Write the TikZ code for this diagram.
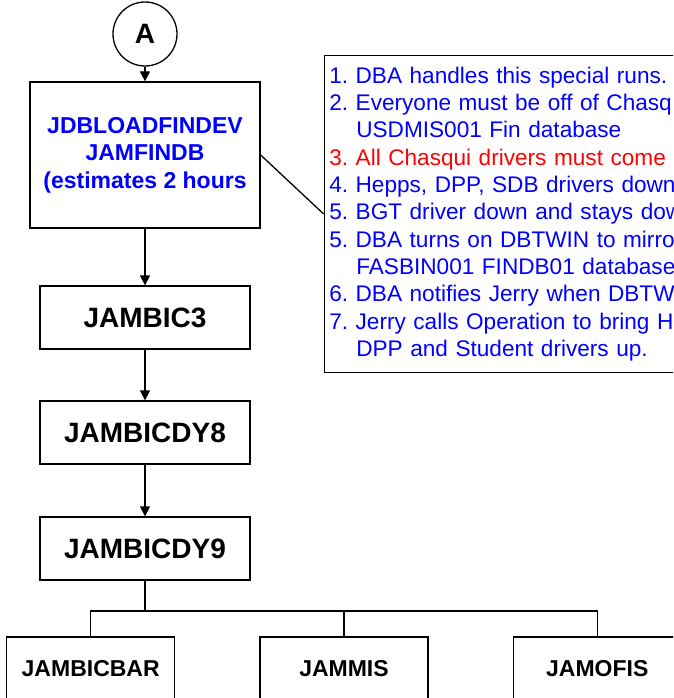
\documentclass[tikz,border=0pt]{standalone}
\usepackage{fontspec}
\setmainfont{Liberation Sans}
\usetikzlibrary{arrows.meta,positioning}
\definecolor{jobblue}{RGB}{0,0,255}
\definecolor{jobred}{RGB}{255,0,0}
\frenchspacing

\begin{document}
\begin{tikzpicture}[x=1pt,y=-1pt,>={Triangle[width=10pt,length=10pt]},line width=1.3pt,
  conn/.style={draw,circle,minimum size=64pt,inner sep=0pt,font=\fontsize{28}{30}\selectfont\bfseries},
  jobbox/.style={draw,rectangle,minimum width=210pt,minimum height=63pt,font=\fontsize{28}{30}\selectfont\bfseries},
  subbox/.style={draw,rectangle,minimum width=168pt,minimum height=64pt,font=\fontsize{23}{26}\selectfont\bfseries},
  notebox/.style={draw,rectangle,text width=420pt,minimum height=317pt,inner xsep=5pt,align=left,text=jobblue,font=\fontsize{22.6}{27.3}\selectfont}]

  \useasboundingbox (0,0) rectangle (673,698);
  \clip (0,0) rectangle (673,698);

  \node[conn] (a) at (145,34) {A};
  \node[jobbox,minimum width=230pt,minimum height=146pt,align=center,text=jobblue,
        font=\fontsize{23}{27.5}\selectfont\bfseries] (load) [below=14.7pt of a]
        {JDBLOADFINDEV\\JAMFINDB\\(estimates 2 hours};
  \node[jobbox] (bic3) [below=56.7pt of load] {JAMBIC3};
  \node[jobbox] (dy8) [below=50.7pt of bic3] {JAMBICDY8};
  \node[jobbox] (dy9) [below=51.7pt of dy8] {JAMBICDY9};

  \node[subbox] (mis) [below=55.7pt of dy9,xshift=199pt] {JAMMIS};
  \node[subbox] (bar) [left=84pt of mis] {JAMBICBAR};
  \node[subbox] (ofis) [right=84pt of mis] {JAMOFIS};

  % notes for the special run
  \node[notebox] (notes) [right=63pt of load,yshift=-59pt]
    {1. DBA handles this special runs.\\
     2. Everyone must be off of Chasq\\
     \hspace*{27pt}USDMIS001 Fin database\\
     \textcolor{jobred}{3. All Chasqui drivers must come}\\
     4. Hepps, DPP, SDB drivers down\\
     5. BGT driver down and stays down\\
     5. DBA turns on DBTWIN to mirro\\
     \hspace*{27pt}FASBIN001 FINDB01 database\\
     6. DBA notifies Jerry when DBTW\\
     7. Jerry calls Operation to bring H\\
     \hspace*{27pt}DPP and Student drivers up.};

  \draw[->] (a) -- (load);
  \draw[->] (load) -- (bic3);
  \draw[->] (bic3) -- (dy8);
  \draw[->] (dy8) -- (dy9);
  \draw (load.east) -- (notes.west);

  % fork to the three jobs
  \coordinate (fork) at (145,611);
  \draw (dy9.south) -- (fork);
  \draw (bar.north) |- (fork);
  \draw (ofis.north) |- (fork);
  \draw (mis.north) -- (mis.north |- fork);

\end{tikzpicture}
\end{document}
